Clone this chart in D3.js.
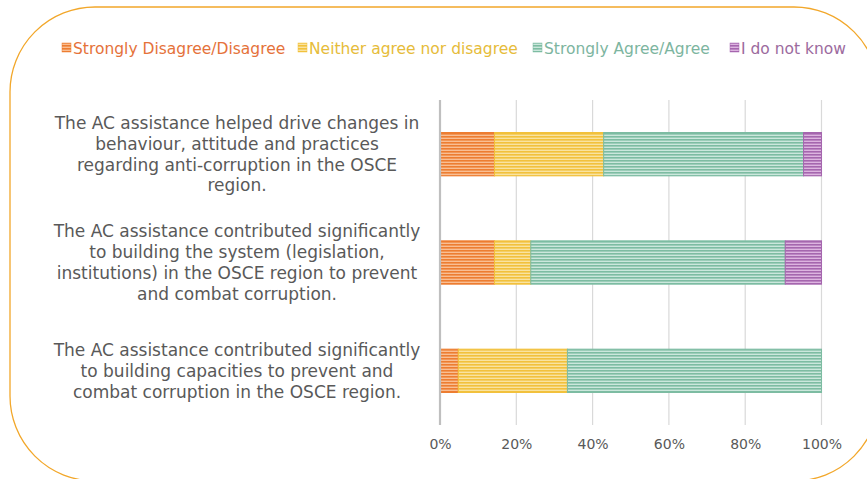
<!DOCTYPE html>
<html>
<head>
<meta charset="utf-8">
<script src="https://cdn.jsdelivr.net/npm/d3@7"></script>
<style>
  body { margin: 0; background: #fff; }
  svg { display: block; font-family: 'DejaVu Sans', sans-serif; }
</style>
</head>
<body>
<div id="chart-area"></div>
<script>
// survey answers, share of respondents (%)
var questions = [
  ['The AC assistance helped drive changes in', 'behaviour, attitude and practices', 'regarding anti-corruption in the OSCE', 'region.'],
  ['The AC assistance contributed significantly', 'to building the system (legislation,', 'institutions) in the OSCE region to prevent', 'and combat corruption.'],
  ['The AC assistance contributed significantly', 'to building capacities to prevent and', 'combat corruption in the OSCE region.']
]
var seriesNames = ['Strongly Disagree/Disagree', 'Neither agree nor disagree', 'Strongly Agree/Agree', 'I do not know']
var disagree = [14.3, 14.3, 4.8]
var neither  = [28.6, 9.5, 28.6]
var agree    = [52.4, 66.7, 66.6]
var dontKnow = [4.7, 9.5, 0]
var ticks = [0, 20, 40, 60, 80, 100]

var dark  = ['#ED7D31', '#F2C13C', '#7DBCA2', '#A566AE']
var light = ['#F9BE93', '#F9E3A0', '#CBE7DC', '#DDB4E0']
var textCol = ['#E5723A', '#E6BC3A', '#7DB5A0', '#9C6B9E']

var W = 867, H = 479
var margin = { left: 440, right: 46, top: 100, bottom: 54 }
var width = W - margin.left - margin.right,
    height = H - margin.top - margin.bottom

var svg = d3.select('#chart-area')
  .append('svg')
    .attr('width', W)
    .attr('height', H)

// striped fills
var defs = svg.append('defs')
dark.forEach((c, i) => {
  var p = defs.append('pattern')
    .attr('id', 'stripe' + i)
    .attr('patternUnits', 'userSpaceOnUse')
    .attr('width', 6).attr('height', 3)
  p.append('rect').attr('width', 6).attr('height', 3).attr('fill', light[i])
  p.append('rect').attr('width', 6).attr('height', 1.6).attr('fill', c)
})

// rounded frame
svg.append('rect')
  .attr('x', 10).attr('y', 7)
  .attr('width', 869).attr('height', 474)
  .attr('rx', 85).attr('ry', 85)
  .attr('fill', 'none')
  .attr('stroke', '#F2A72A')
  .attr('stroke-width', 1.3)

var g = svg.append('g')
  .attr('transform', 'translate(' + margin.left + ',' + margin.top + ')')

var x = d3.scaleLinear().domain([0, 100]).range([0, width + 0.5])
var y = d3.scaleBand()
  .domain(d3.range(questions.length))
  .range([0, height])
  .paddingInner(0.6)
  .paddingOuter(0.3)

// gridlines
g.selectAll('.grid')
  .data(ticks.slice(1))
  .enter().append('line')
    .attr('x1', d => x(d)).attr('x2', d => x(d))
    .attr('y1', 0).attr('y2', height)
    .attr('stroke', '#D9D9D9')
    .attr('stroke-width', 1.2)

var xAxis = d3.axisBottom(x)
  .tickValues(ticks)
  .tickFormat(d => d + '%')
  .tickSize(0)
  .tickPadding(14)
var ax = g.append('g')
  .attr('transform', 'translate(0,' + height + ')')
  .call(xAxis)
ax.select('.domain').remove()
ax.selectAll('text')
  .attr('font-size', '14px')
  .attr('fill', '#595959')
  .attr('font-family', "'DejaVu Sans', sans-serif")

// stacked bars
var rows = questions.map((q, i) => ({ i: i, vals: [disagree[i], neither[i], agree[i], dontKnow[i]] }))
var stack = d3.stack().keys([0, 1, 2, 3]).value((d, k) => d.vals[k])
var layers = stack(rows)

g.selectAll('.layer')
  .data(layers)
  .enter().append('g')
    .attr('class', 'layer')
  .selectAll('rect')
  .data((L, k) => L.map(s => ({ s: s, k: k })))
  .enter().append('rect')
    .filter(d => d.s[1] - d.s[0] > 0)
    .attr('x', d => x(d.s[0]))
    .attr('width', d => x(d.s[1]) - x(d.s[0]))
    .attr('y', d => y(d.s.data.i))
    .attr('height', y.bandwidth())
    .attr('fill', d => 'url(#stripe' + d.k + ')')
    .attr('stroke', d => dark[d.k])
    .attr('stroke-width', 1)

// left axis line
g.append('line')
  .attr('x1', 0).attr('x2', 0)
  .attr('y1', 0).attr('y2', height)
  .attr('stroke', '#BFBFBF')
  .attr('stroke-width', 2.2)

// category labels
var labels = g.selectAll('.qlabel')
  .data(questions)
  .enter().append('text')
    .attr('class', 'qlabel')
    .attr('text-anchor', 'middle')
    .attr('font-size', '17px')
    .attr('fill', '#595959')
    .attr('transform', (d, i) => 'translate(' + (-203) + ',' + (y(i) + y.bandwidth() / 2) + ')')
labels.selectAll('tspan')
  .data(d => d.map((t, j) => ({ t: t, j: j, n: d.length })))
  .enter().append('tspan')
    .attr('x', 0)
    .attr('y', d => (d.j - (d.n - 1) / 2) * 20.8 + 6)
    .text(d => d.t)

// legend
var legX = [62, 298, 533, 730]
var leg = svg.append('g').selectAll('g')
  .data(seriesNames)
  .enter().append('g')
    .attr('transform', (d, i) => 'translate(' + legX[i] + ',48)')
leg.append('rect')
  .attr('x', 0).attr('y', -5)
  .attr('width', 9).attr('height', 9)
  .attr('fill', (d, i) => 'url(#stripe' + i + ')')
  .attr('stroke', (d, i) => dark[i])
  .attr('stroke-width', 0.5)
leg.append('text')
  .attr('x', 11)
  .attr('y', 6)
  .attr('font-size', '15.5px')
  .attr('fill', (d, i) => textCol[i])
  .text(d => d)
</script>
</body>
</html>
